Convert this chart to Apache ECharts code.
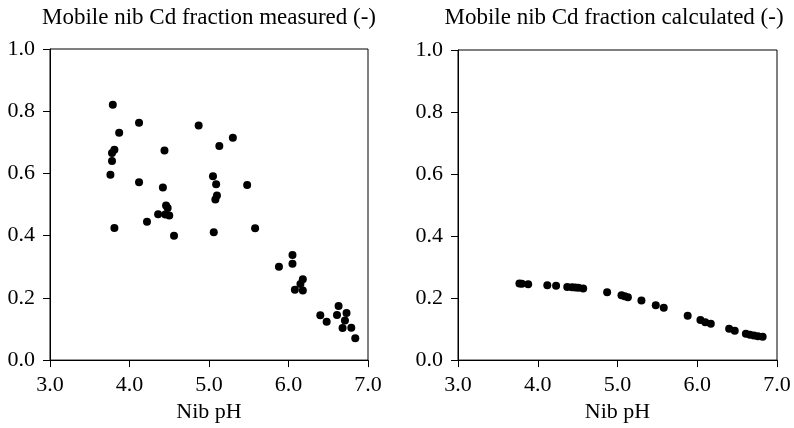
<!DOCTYPE html>
<html>
<head>
<meta charset="utf-8">
<script src="https://cdn.jsdelivr.net/npm/echarts@6/dist/echarts.min.js"></script>
<style>
  html, body { margin: 0; padding: 0; background: #fff; }
  #chart { width: 794px; height: 428px; }
</style>
</head>
<body>
<div id="chart"></div>
<script>
// Measured mobile Cd fraction in nibs versus nib pH
const measuredPH = [
  3.79, 4.12, 3.87, 3.81, 3.78, 4.44, 3.78, 3.76, 4.12, 4.42,
  4.46, 4.48, 4.36, 4.45, 4.50, 4.22, 3.81, 4.56,
  4.87, 5.30, 5.13, 5.05, 5.09, 5.48, 5.10, 5.08, 5.06, 5.58, 6.05,
  5.88, 6.05, 6.18, 6.15, 6.08, 6.18, 6.63, 6.40, 6.61, 6.73,
  6.48, 6.71, 6.68, 6.79, 6.84
];
const measuredFraction = [
  0.821, 0.763, 0.731, 0.676, 0.666, 0.674, 0.640, 0.596, 0.572, 0.555,
  0.497, 0.489, 0.469, 0.468, 0.465, 0.445, 0.425, 0.400,
  0.754, 0.715, 0.688, 0.591, 0.565, 0.563, 0.529, 0.516, 0.411, 0.424, 0.338,
  0.300, 0.310, 0.260, 0.245, 0.226, 0.224, 0.174, 0.144, 0.145, 0.151,
  0.123, 0.127, 0.103, 0.104, 0.070
];

// Model-calculated mobile Cd fraction versus nib pH
const calculatedPH = [
  3.77, 3.80, 3.88, 4.12, 4.23, 4.37, 4.43, 4.47, 4.51, 4.57,
  4.87, 5.05, 5.09, 5.13, 5.30, 5.48, 5.58, 5.88, 6.04, 6.10,
  6.17, 6.40, 6.47, 6.61, 6.66, 6.71, 6.76, 6.82
];
const calculatedFraction = [
  0.247, 0.246, 0.245, 0.241, 0.240, 0.236, 0.235, 0.234, 0.233, 0.231,
  0.219, 0.209, 0.206, 0.203, 0.192, 0.177, 0.169, 0.143, 0.129, 0.122,
  0.117, 0.101, 0.095, 0.085, 0.082, 0.079, 0.077, 0.075
];

const panelTitles = [
  'Mobile nib Cd fraction measured (-)',
  'Mobile nib Cd fraction calculated (-)'
];
const xAxisTitle = 'Nib pH';

const FONT = '"Liberation Serif", "Times New Roman", serif';
const FS = 22;
const TITLE_FS = 23;

const pairs = (xs, ys) => xs.map((x, i) => [x, ys[i]]);

const grids = [
  { left: 50, top: 49, width: 318, height: 317 },
  { left: 458, top: 50, width: 319, height: 316 }
];
// horizontal centre of each panel title
const titleX = [209, 614];

function xAxisFor(gi) {
  return {
    gridIndex: gi, type: 'value', min: 3, max: 7, interval: 1,
    name: xAxisTitle, nameLocation: 'middle', nameGap: 40,
    nameTextStyle: { fontFamily: FONT, fontSize: FS, color: '#000' },
    axisLine: { lineStyle: { color: '#000', width: 1 } },
    axisTick: { inside: false, length: 7, lineStyle: { color: '#000' } },
    axisLabel: { fontFamily: FONT, fontSize: FS, color: '#000', margin: 14,
                 formatter: v => v.toFixed(1) },
    splitLine: { show: false }
  };
}
function yAxisFor(gi) {
  return {
    gridIndex: gi, type: 'value', min: 0, max: 1, interval: 0.2,
    axisLine: { lineStyle: { color: '#000', width: 1 } },
    axisTick: { inside: false, length: 7, lineStyle: { color: '#000' } },
    axisLabel: { fontFamily: FONT, fontSize: FS, color: '#000', margin: 15,
                 formatter: v => v.toFixed(1) },
    splitLine: { show: false }
  };
}

const chart = echarts.init(document.getElementById('chart'), null, { renderer: 'canvas' });
chart.setOption({
  animation: false,
  backgroundColor: '#fff',
  grid: grids.map(g => Object.assign({ show: true, borderColor: '#000', borderWidth: 1,
                                       backgroundColor: 'transparent' }, g)),
  xAxis: [xAxisFor(0), xAxisFor(1)],
  yAxis: [yAxisFor(0), yAxisFor(1)],
  graphic: panelTitles.map((t, i) => ({
    type: 'text',
    x: titleX[i],
    y: 18,
    style: { text: t, font: TITLE_FS + 'px ' + FONT, fill: '#000',
             textAlign: 'center', textVerticalAlign: 'middle' }
  })),
  series: [
    { type: 'scatter', xAxisIndex: 0, yAxisIndex: 0, symbolSize: 8,
      itemStyle: { color: '#000', opacity: 1 },
      data: pairs(measuredPH, measuredFraction) },
    { type: 'scatter', xAxisIndex: 1, yAxisIndex: 1, symbolSize: 8,
      itemStyle: { color: '#000', opacity: 1 },
      data: pairs(calculatedPH, calculatedFraction) }
  ]
});
</script>
</body>
</html>
